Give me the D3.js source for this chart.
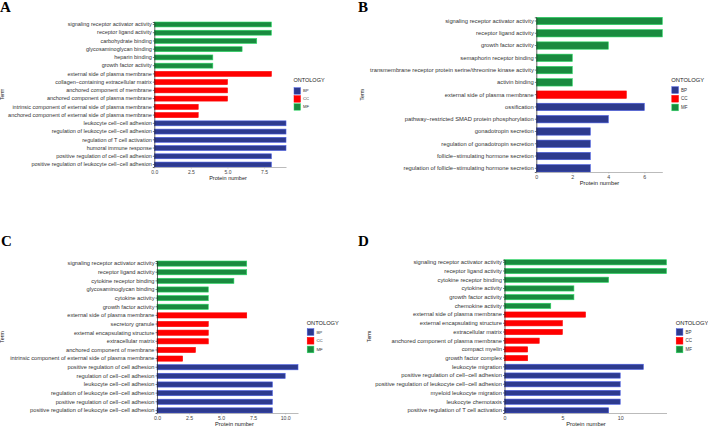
<!DOCTYPE html>
<html>
<head>
<meta charset="utf-8">
<script src="https://cdn.jsdelivr.net/npm/d3@7"></script>
<style>
  body { margin: 0; background: #fff; }
  svg { display: block; font-family: "Liberation Sans", Arial, sans-serif; }
</style>
</head>
<body>
<svg id="chart"></svg>
<script>
// Panel A data (top to bottom)
var termsA = ["signaling receptor activator activity", "receptor ligand activity", "carbohydrate binding",
  "glycosaminoglycan binding", "heparin binding", "growth factor activity",
  "external side of plasma membrane", "collagen\u2212containing extracellular matrix", "anchored component of membrane",
  "anchored component of plasma membrane", "intrinsic component of external side of plasma membrane",
  "anchored component of external side of plasma membrane",
  "leukocyte cell\u2212cell adhesion", "regulation of leukocyte cell\u2212cell adhesion", "regulation of T cell activation",
  "humoral immune response", "positive regulation of cell\u2212cell adhesion", "positive regulation of leukocyte cell\u2212cell adhesion"];
var countsA = [8, 8, 7, 6, 4, 4, 8, 5, 5, 5, 3, 3, 9, 9, 9, 9, 8, 8];
var ontoA = ["MF", "MF", "MF", "MF", "MF", "MF", "CC", "CC", "CC", "CC", "CC", "CC", "BP", "BP", "BP", "BP", "BP", "BP"];

// Panel B data
var termsB = ["signaling receptor activator activity", "receptor ligand activity", "growth factor activity",
  "semaphorin receptor binding", "transmembrane receptor protein serine/threonine kinase activity", "activin binding",
  "external side of plasma membrane", "ossification", "pathway\u2212restricted SMAD protein phosphorylation",
  "gonadotropin secretion", "regulation of gonadotropin secretion", "follicle\u2212stimulating hormone secretion",
  "regulation of follicle\u2212stimulating hormone secretion"];
var countsB = [7, 7, 4, 2, 2, 2, 5, 6, 4, 3, 3, 3, 3];
var ontoB = ["MF", "MF", "MF", "MF", "MF", "MF", "CC", "BP", "BP", "BP", "BP", "BP", "BP"];

// Panel C data
var termsC = ["signaling receptor activator activity", "receptor ligand activity", "cytokine receptor binding",
  "glycosaminoglycan binding", "cytokine activity", "growth factor activity",
  "external side of plasma membrane", "secretory granule", "external encapsulating structure",
  "extracellular matrix", "anchored component of membrane", "intrinsic component of external side of plasma membrane",
  "positive regulation of cell adhesion", "regulation of cell\u2212cell adhesion", "leukocyte cell\u2212cell adhesion",
  "regulation of leukocyte cell\u2212cell adhesion", "positive regulation of cell\u2212cell adhesion",
  "positive regulation of leukocyte cell\u2212cell adhesion"];
var countsC = [7, 7, 6, 4, 4, 4, 7, 4, 4, 4, 3, 2, 11, 10, 9, 9, 9, 9];
var ontoC = ["MF", "MF", "MF", "MF", "MF", "MF", "CC", "CC", "CC", "CC", "CC", "CC", "BP", "BP", "BP", "BP", "BP", "BP"];

// Panel D data
var termsD = ["signaling receptor activator activity", "receptor ligand activity", "cytokine receptor binding",
  "cytokine activity", "growth factor activity", "chemokine activity",
  "external side of plasma membrane", "external encapsulating structure", "extracellular matrix",
  "anchored component of plasma membrane", "compact myelin", "growth factor complex",
  "leukocyte migration", "positive regulation of cell\u2212cell adhesion",
  "positive regulation of leukocyte cell\u2212cell adhesion", "myeloid leukocyte migration",
  "leukocyte chemotaxis", "positive regulation of T cell activation"];
var countsD = [14, 14, 9, 6, 6, 4, 7, 5, 5, 3, 2, 2, 12, 10, 10, 10, 10, 9];
var ontoD = ["MF", "MF", "MF", "MF", "MF", "MF", "CC", "CC", "CC", "CC", "CC", "CC", "BP", "BP", "BP", "BP", "BP", "BP"];

var ontologyKeys = ["BP", "CC", "MF"];
var ontologyColors = ["#2d3a8e", "#ff0000", "#1a8a3f"];

var svg = d3.select("#chart").attr("width", 708).attr("height", 428);

var color = d3.scaleOrdinal().domain(ontologyKeys).range(ontologyColors);

// layout of each panel (page pixels)
var panels = [
  { letter: "A", terms: termsA, counts: countsA, onto: ontoA, max: 9, ticks: [0, 2.5, 5, 7.5], fmt: ".1f",
    x0: 154.3, x1: 286, top: 22, bottom: 167, fs: 5.5, lx: 0, ly: 12, termX: 4, titleX: 228,
    legX: 293.5, legY: 82.3, keyY: 87.7, keyStep: 8, key: 6.5 },
  { letter: "B", terms: termsB, counts: countsB, onto: ontoB, max: 7, ticks: [0, 2, 4, 6], fmt: "d",
    x0: 536.3, x1: 662.3, top: 17.3, bottom: 172, fs: 5.8, lx: 358, ly: 12, termX: 364, titleX: 599.5,
    legX: 671.3, legY: 82.3, keyY: 86.7, keyStep: 8.7, key: 6.7 },
  { letter: "C", terms: termsC, counts: countsC, onto: ontoC, max: 11, ticks: [0, 2.5, 5, 7.5, 10], fmt: ".1f",
    x0: 157, x1: 298, top: 261, bottom: 413, fs: 5.7, lx: 1, ly: 246, termX: 4, titleX: 234.5,
    legX: 306.7, legY: 324.5, keyY: 328.7, keyStep: 8.7, key: 6.7 },
  { letter: "D", terms: termsD, counts: countsD, onto: ontoD, max: 14, ticks: [0, 5, 10], fmt: "d",
    x0: 504.5, x1: 666.5, top: 259.7, bottom: 413, fs: 5.8, lx: 358, ly: 246, termX: 371, titleX: 586,
    legX: 675.7, legY: 324.5, keyY: 328.7, keyStep: 8.7, key: 6.7 }
];

panels.forEach(function(p) {
  var g = svg.append("g");
  var rows = p.terms.map(function(t, i) {
    return { term: t, count: p.counts[i], onto: p.onto[i] };
  });

  var x = d3.scaleLinear().domain([0, p.max]).range([p.x0, p.x1]);
  var y = d3.scaleBand()
    .domain(p.terms)
    .range([p.top, p.bottom])
    .paddingInner(0.4)
    .paddingOuter(0);

  // bars
  g.selectAll("rect.bar")
    .data(rows)
    .enter().append("rect")
    .attr("class", "bar")
    .attr("x", x(0))
    .attr("y", function(d) { return y(d.term); })
    .attr("width", function(d) { return x(d.count) - x(0); })
    .attr("height", y.bandwidth())
    .attr("fill", function(d) { return color(d.onto); })
    .attr("stroke", function(d) { return d3.color(color(d.onto)).brighter(1.3); })
    .attr("stroke-width", 0.6);

  // y axis
  var yAxis = g.append("g")
    .attr("transform", "translate(" + x(0) + ",0)")
    .call(d3.axisLeft(y).tickSize(1.5).tickPadding(1));
  yAxis.select(".domain").attr("stroke", "#222").attr("stroke-width", 0.7);
  yAxis.selectAll(".tick line").attr("stroke", "#222").attr("stroke-width", 0.6);
  yAxis.selectAll("text")
    .attr("fill", "#333")
    .style("font-size", p.fs + "px")
    .style("font-family", "'Liberation Sans', Arial, sans-serif");

  // x axis
  var xAxis = g.append("g")
    .attr("transform", "translate(0," + p.bottom + ")")
    .call(d3.axisBottom(x).tickValues(p.ticks).tickFormat(d3.format(p.fmt)).tickSize(1.5).tickSizeOuter(0).tickPadding(1.5));
  xAxis.select(".domain").attr("stroke", "#aaa").attr("stroke-width", 0.8);
  xAxis.selectAll(".tick line").attr("stroke", "#aaa").attr("stroke-width", 0.6);
  xAxis.selectAll("text")
    .attr("fill", "#444")
    .style("font-size", (p.fs - 0.5) + "px")
    .style("font-family", "'Liberation Sans', Arial, sans-serif");

  // axis titles
  g.append("text")
    .attr("x", p.titleX)
    .attr("y", p.bottom + 13)
    .attr("text-anchor", "middle")
    .style("font-size", p.fs + "px")
    .attr("fill", "#222")
    .text("Protein number");

  g.append("text")
    .attr("transform", "translate(" + p.termX + "," + ((p.top + p.bottom) / 2) + ") rotate(-90)")
    .attr("text-anchor", "middle")
    .style("font-size", (p.fs - 0.5) + "px")
    .attr("fill", "#222")
    .text("Term");

  // panel letter
  g.append("text")
    .attr("x", p.lx)
    .attr("y", p.ly)
    .style("font-family", "'Liberation Serif', 'Times New Roman', serif")
    .style("font-weight", "bold")
    .style("font-size", "15px")
    .attr("fill", "#000")
    .text(p.letter);

  // legend
  g.append("text")
    .attr("x", p.legX)
    .attr("y", p.legY)
    .style("font-size", p.fs + "px")
    .attr("fill", "#222")
    .text("ONTOLOGY");

  g.selectAll("rect.key")
    .data(ontologyKeys)
    .enter().append("rect")
    .attr("class", "key")
    .attr("x", p.legX + 0.5)
    .attr("y", function(d, i) { return p.keyY + i * p.keyStep; })
    .attr("width", p.key)
    .attr("height", p.key)
    .attr("fill", function(d) { return color(d); })
    .attr("stroke", function(d) { return d3.color(color(d)).brighter(1.3); })
    .attr("stroke-width", 0.5);

  g.selectAll("text.keylabel")
    .data(ontologyKeys)
    .enter().append("text")
    .attr("class", "keylabel")
    .attr("x", p.legX + p.key + 3)
    .attr("y", function(d, i) { return p.keyY + i * p.keyStep + p.key / 2; })
    .attr("dy", "0.35em")
    .style("font-size", (p.fs - 1.3) + "px")
    .attr("fill", "#333")
    .text(function(d) { return d; });
});
</script>
</body>
</html>
